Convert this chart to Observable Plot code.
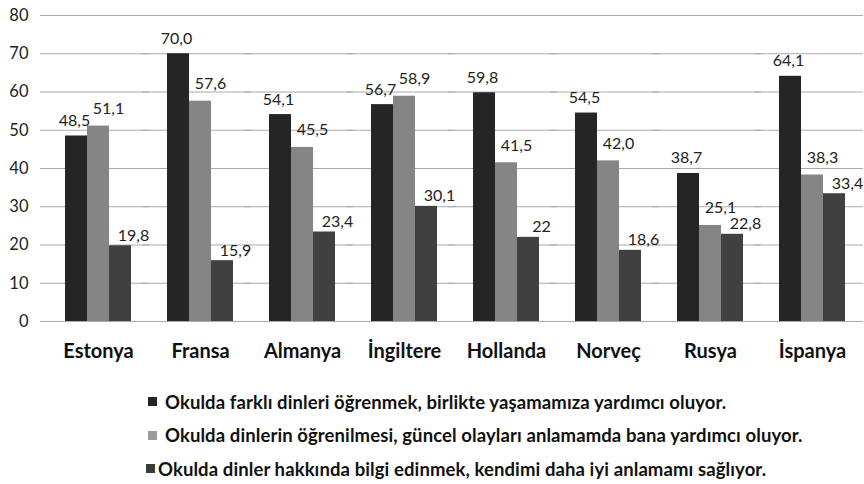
<!DOCTYPE html>
<html>
<head>
<meta charset="utf-8">
<script src="https://cdn.jsdelivr.net/npm/d3@7"></script>
<script src="https://cdn.jsdelivr.net/npm/@observablehq/plot@0.6"></script>
<style>
  body { margin: 0; background: #fff; font-family: Lato, "Open Sans", sans-serif; }
  #chart svg { display: block; }
  .legend { padding-left: 146px; margin-top: 13px; }
  .legend .row { display: flex; align-items: center; height: 33.5px; font-weight: bold; font-size: 18.5px; letter-spacing: 0.1px; color: #111; }
  .legend .sw { width: 9px; height: 9px; margin-right: 8px; }
</style>
</head>
<body>
<div id="chart"></div>
<script>
const countries = ["Estonya", "Fransa", "Almanya", "İngiltere", "Hollanda", "Norveç", "Rusya", "İspanya"];
const seriesNames = [
  "Okulda farklı dinleri öğrenmek, birlikte yaşamamıza yardımcı oluyor.",
  "Okulda dinlerin öğrenilmesi, güncel olayları anlamamda bana yardımcı oluyor.",
  "Okulda dinler hakkında bilgi edinmek, kendimi daha iyi anlamamı sağlıyor."
];
const s1Values = [48.5, 70.0, 54.1, 56.7, 59.8, 54.5, 38.7, 64.1];
const s2Values = [51.1, 57.6, 45.5, 58.9, 41.5, 42.0, 25.1, 38.3];
const s3Values = [19.8, 15.9, 23.4, 30.1, 22, 18.6, 22.8, 33.4];
const s1Labels = ["48,5", "70,0", "54,1", "56,7", "59,8", "54,5", "38,7", "64,1"];
const s2Labels = ["51,1", "57,6", "45,5", "58,9", "41,5", "42,0", "25,1", "38,3"];
const s3Labels = ["19,8", "15,9", "23,4", "30,1", "22", "18,6", "22,8", "33,4"];
const yTicks = [0, 10, 20, 30, 40, 50, 60, 70, 80];

const colors = ["#252525", "#858585", "#404040"];
const legendColors = ["#252525", "#9a9a9a", "#3a3a3a"];
const labelDx = [-2, 10, 13];
const labelDy = [-10, -12, -5];

const allValues = [s1Values, s2Values, s3Values];
const allLabels = [s1Labels, s2Labels, s3Labels];
const rows = [];
countries.forEach((c, i) => {
  seriesNames.forEach((s, k) => {
    rows.push({country: c, series: s, k, value: allValues[k][i], label: allLabels[k][i]});
  });
});

const W = 864, H = 372, mL = 47, mR = 1, mT = 15, mB = 51;
const facetHalf = (W - mL - mR) / countries.length / 2;

const valueText = k => Plot.text(rows.filter(d => d.k === k), {
  fx: "country", x: "series", y: "value", text: "label",
  lineAnchor: "bottom", dy: labelDy[k], dx: labelDx[k], fontSize: 16, fill: "#222"
});

const plot = Plot.plot({
  width: W,
  height: H,
  marginLeft: mL,
  marginRight: mR,
  marginTop: mT,
  marginBottom: mB,
  style: {fontFamily: "Lato, 'Open Sans', sans-serif", color: "#222", background: "#fff"},
  fx: {domain: countries, padding: 0, label: null},
  x: {domain: seriesNames, paddingInner: 0, paddingOuter: 0.77, axis: null},
  y: {domain: [0, 80], axis: null},
  color: {domain: seriesNames, range: colors},
  marks: [
    Plot.ruleY(yTicks, {y: d => d, stroke: "#aaaaaa", strokeWidth: 1.2, insetLeft: -7}),
    Plot.ruleX(countries, {fx: d => d, y1: () => 0, y2: () => 0, insetBottom: -6, dx: -facetHalf, stroke: "#9a9a9a"}),
    Plot.ruleX([countries[0]], {fx: d => d, y1: () => 0, y2: () => 80, insetBottom: -6, dx: -facetHalf, stroke: "#9a9a9a"}),
    Plot.barY(rows, {fx: "country", x: "series", y: "value", fill: "series"}),
    valueText(0),
    valueText(1),
    valueText(2),
    Plot.axisY(yTicks, {tickSize: 0, tickPadding: 19, fontSize: 16.5, label: null, fill: "#222"}),
    Plot.axisFx({anchor: "bottom", tickSize: 0, tickPadding: 22, fontSize: 20, fontWeight: "bold", label: null, fill: "#111"})
  ]
});
document.getElementById("chart").appendChild(plot);

const legend = document.createElement("div");
legend.className = "legend";
seriesNames.forEach((s, k) => {
  const row = document.createElement("div");
  row.className = "row";
  const sw = document.createElement("span");
  sw.className = "sw";
  sw.style.background = legendColors[k];
  if (k === 2) { sw.style.marginRight = "3px"; } else { sw.style.marginLeft = "2px"; }
  const t = document.createElement("span");
  t.textContent = s;
  row.appendChild(sw);
  row.appendChild(t);
  legend.appendChild(row);
});
document.body.appendChild(legend);
</script>
</body>
</html>
